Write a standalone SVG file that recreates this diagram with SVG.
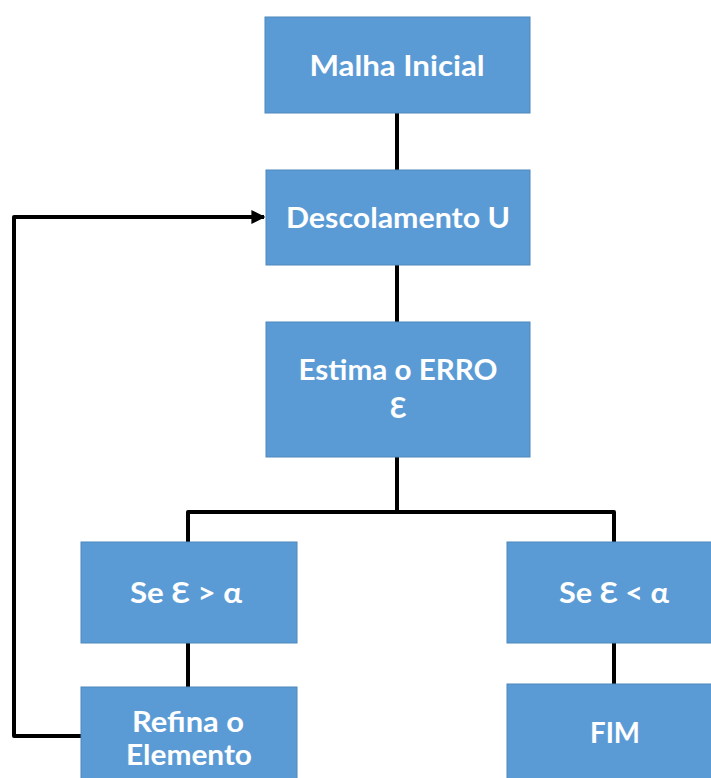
<svg xmlns="http://www.w3.org/2000/svg" width="711" height="778" viewBox="0 0 711 778">
<style>
.box{fill:#5B9BD5;stroke:#4F87BD;stroke-width:1}
.t{font-family:Lato,"Noto Sans",sans-serif;font-weight:bold;font-size:28px;fill:#fff;text-anchor:middle}
.c{fill:none;stroke:#000;stroke-width:4;stroke-linejoin:round}
</style>
<defs>
<marker id="ah" viewBox="0 0 10 10" refX="9" refY="5" markerWidth="3.5" markerHeight="3.5" markerUnits="strokeWidth" orient="auto">
<path d="M0,0 L10,5 L0,10 z" fill="#000"/>
</marker>
</defs>
<rect width="711" height="778" fill="#fff"/>
<g id="connectors">
<path class="c" d="M397,113 V170"/>
<path class="c" d="M397,265 V322"/>
<path class="c" d="M397,457 V512 M188,543 V512 H614 V543"/>
<path class="c" d="M188,643 V687"/>
<path class="c" d="M614,643 V684"/>
<path class="c" d="M81,736 H14 V217 H264" marker-end="url(#ah)"/>
</g>
<g id="malha"><rect class="box" x="265" y="17" width="265" height="96"/><text class="t" x="397" y="76" textLength="175" lengthAdjust="spacingAndGlyphs">Malha Inicial</text></g>
<g id="descolamento"><rect class="box" x="266" y="170" width="264" height="95"/><text class="t" x="398" y="228" textLength="224" lengthAdjust="spacingAndGlyphs">Descolamento U</text></g>
<g id="estima"><rect class="box" x="266" y="322" width="264" height="135"/><text class="t" x="398" y="380" textLength="199" lengthAdjust="spacingAndGlyphs">Estima o ERRO</text><text class="t" x="398" y="418">Ɛ</text></g>
<g id="se_maior"><rect class="box" x="81" y="542" width="216" height="101"/><text class="t" x="186" y="603" textLength="112" lengthAdjust="spacingAndGlyphs">Se Ɛ &gt; α</text></g>
<g id="se_menor"><rect class="box" x="507" y="542" width="210" height="101"/><text class="t" x="614" y="603" textLength="110" lengthAdjust="spacingAndGlyphs">Se Ɛ &lt; α</text></g>
<g id="refina"><rect class="box" x="81" y="687" width="216" height="95"/><text class="t" x="188" y="732" textLength="112" lengthAdjust="spacingAndGlyphs">Refina o</text><text class="t" x="189" y="765" textLength="126" lengthAdjust="spacingAndGlyphs">Elemento</text></g>
<g id="fim"><rect class="box" x="507" y="684" width="210" height="98"/><text class="t" x="615" y="743" textLength="50" lengthAdjust="spacingAndGlyphs">FIM</text></g>
</svg>
